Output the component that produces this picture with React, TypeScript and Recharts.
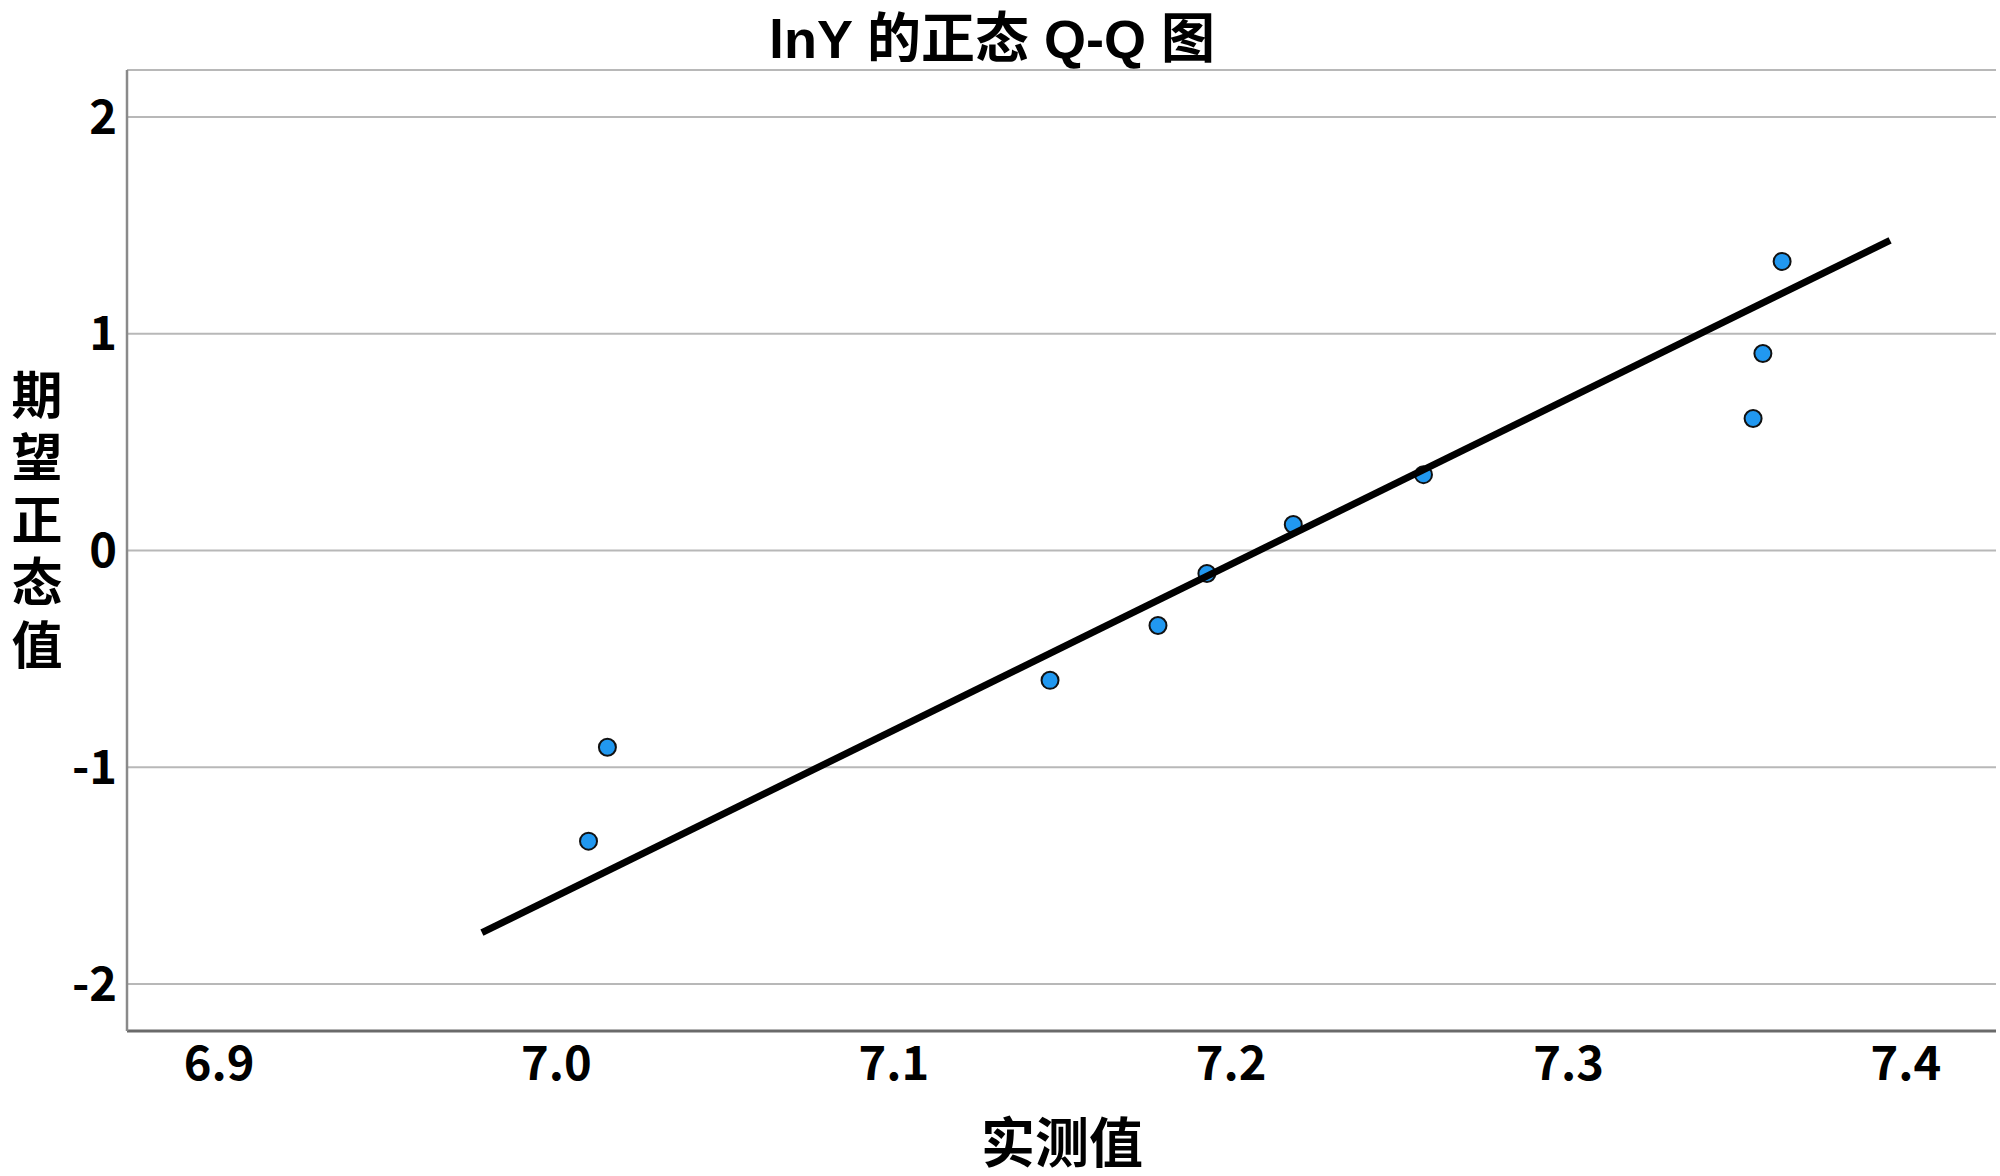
import { ScatterChart, Scatter, XAxis, YAxis, CartesianGrid } from 'recharts';

// observed lnY values (x) and expected normal quantiles (y)
const observed = [7.0095, 7.0151, 7.1463, 7.1783, 7.1928, 7.2184, 7.257, 7.3547, 7.3576, 7.3633];
const expected = [-1.341, -0.908, -0.599, -0.346, -0.106, 0.12, 0.35, 0.609, 0.909, 1.334];

// reference line end points
const fitX = [6.9779, 7.3953];
const fitY = [-1.763, 1.431];

const xTicks = [6.9, 7.0, 7.1, 7.2, 7.3, 7.4];
const yTicks = [-2, -1, 0, 1, 2];

const title = 'lnY 的正态 Q-Q 图';
const xLabel = '实测值';
const yLabel = '期望正态值';

const points = observed.map((x, i) => ({ x, y: expected[i] }));
const fitLine = fitX.map((x, i) => ({ x, y: fitY[i] }));

const cjk = '"Noto Sans CJK SC", "Noto Sans", sans-serif';

const Dot = (props: any) => (
    <circle cx={props.cx} cy={props.cy} r={8.5} fill="#2198f0" stroke="#111" strokeWidth={2} />
);

export default function App() {
    return (
        <div style={{ position: 'absolute', left: 0, top: 0, width: 2000, height: 1176, background: '#fff' }}>
            <ScatterChart width={2000} height={1176} margin={{ top: 70, right: 4, bottom: 0, left: 0 }}>
                <CartesianGrid vertical={false} stroke="#b8b8b8" strokeWidth={2} />
                <XAxis
                    type="number"
                    dataKey="x"
                    domain={[6.8727, 7.4267]}
                    ticks={xTicks}
                    allowDataOverflow
                    height={145}
                    tickLine={false}
                    tickSize={0}
                    tickMargin={16}
                    tickFormatter={(v: number) => v.toFixed(1)}
                    axisLine={{ stroke: '#6a6a6a', strokeWidth: 3 }}
                    tick={{ fill: '#000', fontSize: 47, fontWeight: 700, fontFamily: cjk }}
                />
                <YAxis
                    type="number"
                    dataKey="y"
                    domain={[-2.217, 2.217]}
                    ticks={yTicks}
                    allowDataOverflow
                    width={127}
                    tickLine={false}
                    tickSize={0}
                    tickMargin={10}
                    axisLine={{ stroke: '#8a8a8a', strokeWidth: 2.5 }}
                    tick={{ fill: '#000', fontSize: 47, fontWeight: 700, fontFamily: cjk }}
                />
                <Scatter data={points} shape={Dot} isAnimationActive={false} />
                <Scatter
                    data={fitLine}
                    line={{ stroke: '#000', strokeWidth: 7 }}
                    shape={() => <g />}
                    isAnimationActive={false}
                />
            </ScatterChart>

            <div style={{
                position: 'absolute', left: 992, top: 6, transform: 'translateX(-50%)', whiteSpace: 'nowrap',
                fontFamily: '"Liberation Sans", "Noto Sans CJK SC", sans-serif', fontWeight: 700,
                fontSize: 54, lineHeight: '66px', color: '#000',
            }}>
                {title}
            </div>

            <div style={{
                position: 'absolute', left: 862, width: 400, top: 1104, textAlign: 'center',
                fontFamily: cjk, fontWeight: 700, fontSize: 54, lineHeight: '72px', color: '#000',
            }}>
                {xLabel}
            </div>

            <div style={{
                position: 'absolute', left: 0, width: 74, top: 369, height: 345,
                writingMode: 'vertical-rl', textOrientation: 'upright', letterSpacing: '11.5px',
                fontFamily: cjk, fontWeight: 700, fontSize: 51, lineHeight: '74px', color: '#000',
            }}>
                {yLabel}
            </div>
        </div>
    );
}
